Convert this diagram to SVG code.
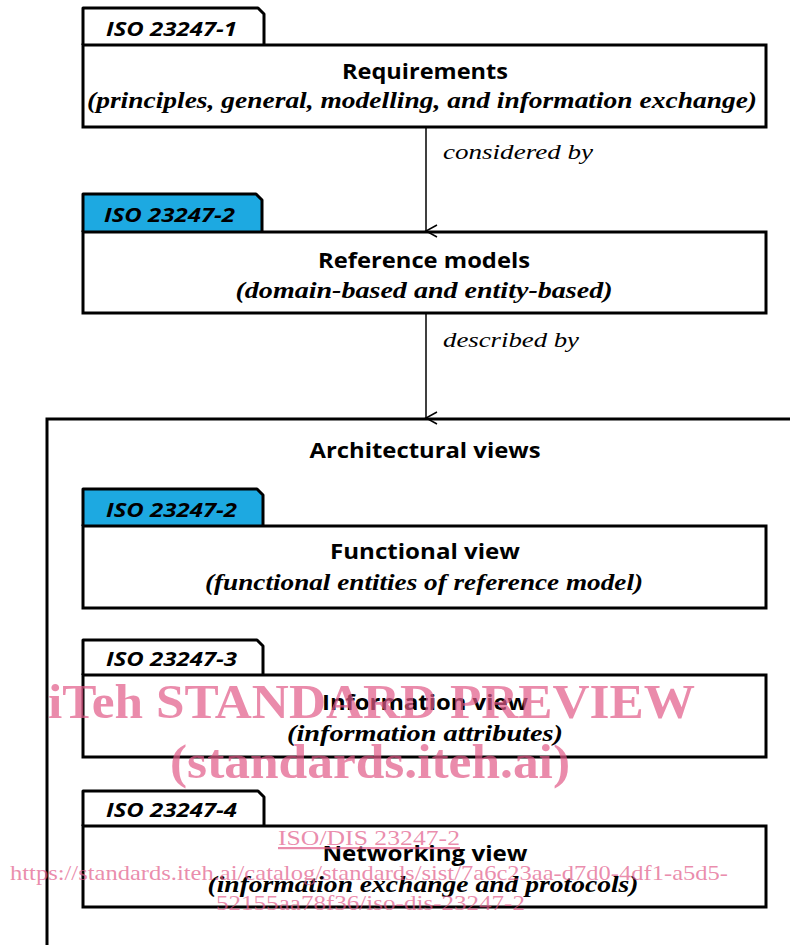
<svg xmlns="http://www.w3.org/2000/svg" width="790" height="945" viewBox="0 0 790 945">
<style>
.box{fill:#fff;stroke:#000;stroke-width:3}
.tab{fill:#fff;stroke:#000;stroke-width:3;stroke-linejoin:round}
.tabb{fill:#1DA9E1;stroke:#000;stroke-width:3;stroke-linejoin:round}
.tl{font-family:"Open Sans","Liberation Sans",sans-serif;font-weight:bold;font-style:italic;font-size:19px;fill:#000}
.ti{font-family:"Open Sans","Liberation Sans",sans-serif;font-weight:bold;font-size:21px;fill:#000;text-anchor:middle}
.sub{font-family:"Liberation Serif","DejaVu Serif",serif;font-weight:bold;font-style:italic;font-size:23px;fill:#000;text-anchor:middle}
.lab{font-family:"Liberation Serif","DejaVu Serif",serif;font-style:italic;font-size:22px;fill:#000}
.con{stroke:#000;stroke-width:1.5;fill:none}
.wm{font-family:"Liberation Serif","Times New Roman",serif;fill:#E15A88;fill-opacity:0.7}
.wmb{font-weight:bold}
</style>
<defs>
<marker id="arr" markerWidth="14" markerHeight="14" refX="7" refY="12" orient="auto-start-reverse" markerUnits="userSpaceOnUse" viewBox="0 0 14 14">
<polyline points="1,1 7,12 13,1" fill="none" stroke="#000" stroke-width="1.5"/>
</marker>
</defs>

<g id="architectural-views">
<rect class="box" x="47" y="419" width="800" height="600"/>
<text class="ti" x="425" y="458" textLength="231" lengthAdjust="spacingAndGlyphs">Architectural views</text>
</g>

<g id="requirements">
<path class="tab" d="M83,45 V8 H258 L264,14 V45"/>
<rect class="box" x="83" y="45" width="683" height="82"/>
<text class="tl" x="106" y="36" textLength="131" lengthAdjust="spacingAndGlyphs">ISO 23247-1</text>
<text class="ti" x="425" y="79" textLength="166" lengthAdjust="spacingAndGlyphs">Requirements</text>
<text class="sub" x="422" y="108" textLength="670" lengthAdjust="spacingAndGlyphs">(principles, general, modelling, and information exchange)</text>
</g>

<g id="reference-models">
<path class="tabb" d="M83,232 V194 H256 L262,200 V232"/>
<rect class="box" x="83" y="232" width="683" height="81"/>
<text class="tl" x="104" y="222" textLength="131" lengthAdjust="spacingAndGlyphs">ISO 23247-2</text>
<text class="ti" x="424" y="268" textLength="212" lengthAdjust="spacingAndGlyphs">Reference models</text>
<text class="sub" x="424" y="298" textLength="377" lengthAdjust="spacingAndGlyphs">(domain-based and entity-based)</text>
</g>

<g id="functional-view">
<path class="tabb" d="M83,526 V489 H257 L263,495 V526"/>
<rect class="box" x="83" y="526" width="683" height="82"/>
<text class="tl" x="106" y="517" textLength="131" lengthAdjust="spacingAndGlyphs">ISO 23247-2</text>
<text class="ti" x="425" y="559" textLength="190" lengthAdjust="spacingAndGlyphs">Functional  view</text>
<text class="sub" x="424" y="590" textLength="438" lengthAdjust="spacingAndGlyphs">(functional entities of reference model)</text>
</g>

<g id="information-view">
<path class="tab" d="M83,675 V640 H257 L263,646 V675"/>
<rect class="box" x="83" y="675" width="683" height="82"/>
<text class="tl" x="106" y="666" textLength="131" lengthAdjust="spacingAndGlyphs">ISO 23247-3</text>
<text class="ti" x="425" y="710" textLength="206" lengthAdjust="spacingAndGlyphs">Information view</text>
<text class="sub" x="425" y="741" textLength="276" lengthAdjust="spacingAndGlyphs">(information attributes)</text>
</g>

<g id="networking-view">
<path class="tab" d="M83,826 V791 H258 L264,797 V826"/>
<rect class="box" x="83" y="826" width="683" height="81"/>
<text class="tl" x="106" y="817" textLength="131" lengthAdjust="spacingAndGlyphs">ISO 23247-4</text>
<text class="ti" x="425" y="861" textLength="205" lengthAdjust="spacingAndGlyphs">Networking view</text>
<text class="sub" x="423" y="892" textLength="431" lengthAdjust="spacingAndGlyphs">(information exchange and protocols)</text>
</g>

<g id="connectors">
<line class="con" x1="426" y1="128" x2="426" y2="231" marker-end="url(#arr)"/>
<line class="con" x1="426" y1="314" x2="426" y2="418" marker-end="url(#arr)"/>
<text class="lab" x="443" y="159" textLength="150" lengthAdjust="spacingAndGlyphs">considered by</text>
<text class="lab" x="443" y="347" textLength="136" lengthAdjust="spacingAndGlyphs">described by</text>
</g>

<g id="watermark">
<text class="wm wmb" x="48" y="718" font-size="48" textLength="647" lengthAdjust="spacingAndGlyphs">iTeh STANDARD PREVIEW</text>
<text class="wm wmb" x="170" y="778" font-size="48" textLength="400" lengthAdjust="spacingAndGlyphs">(standards.iteh.ai)</text>
<text class="wm" x="278" y="845" font-size="22" textLength="182" lengthAdjust="spacingAndGlyphs" text-decoration="underline">ISO/DIS 23247-2</text>
<text class="wm" x="10" y="880" font-size="22" textLength="718" lengthAdjust="spacingAndGlyphs">https://standards.iteh.ai/catalog/standards/sist/7a6c23aa-d7d0-4df1-a5d5-</text>
<text class="wm" x="216" y="910" font-size="22" textLength="309" lengthAdjust="spacingAndGlyphs">52155aa78f36/iso-dis-23247-2</text>
</g>
</svg>
